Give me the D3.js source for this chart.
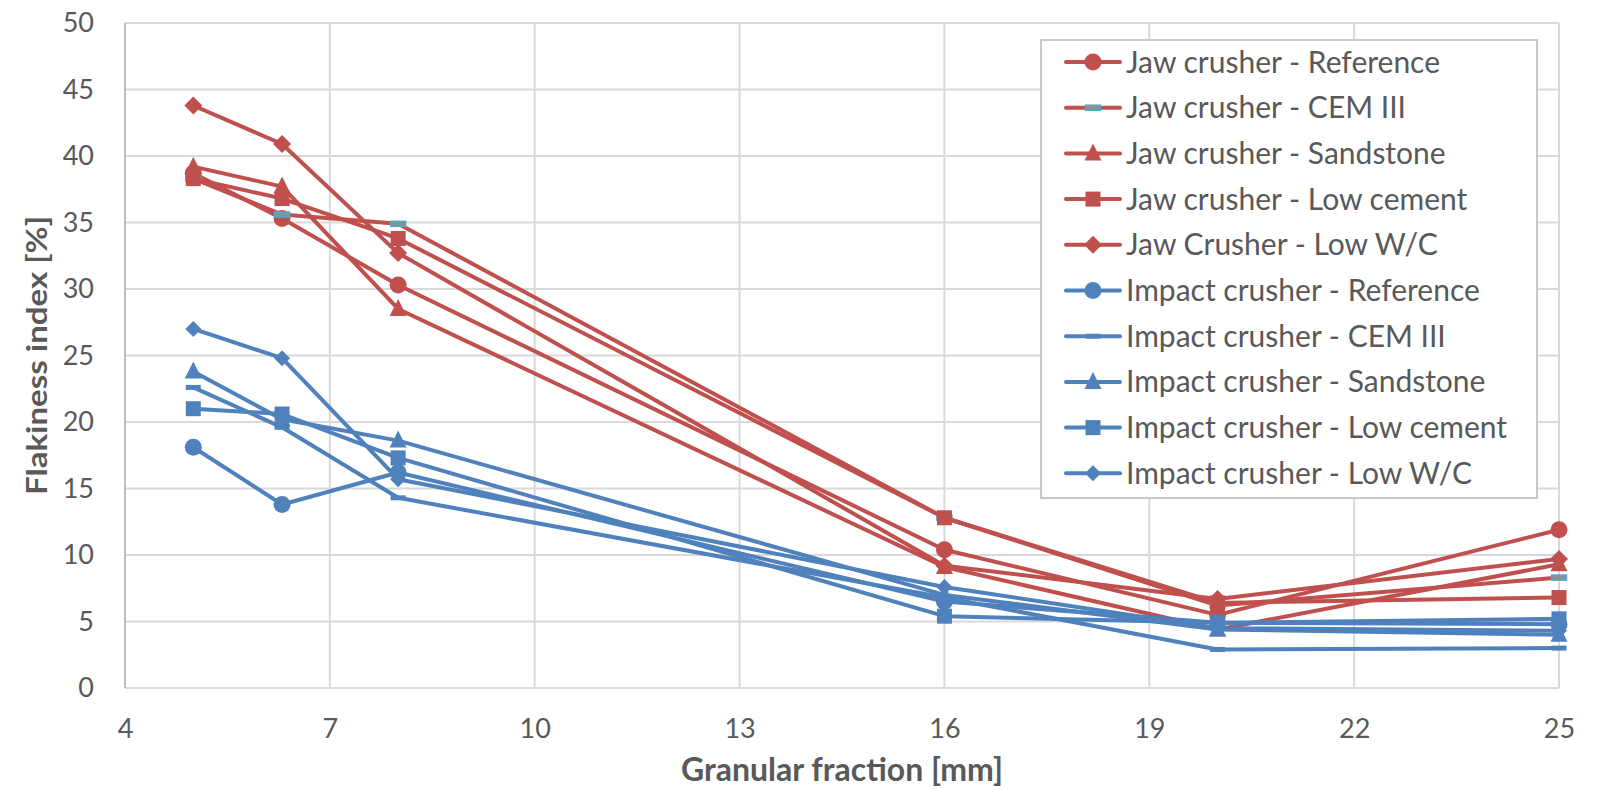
<!DOCTYPE html>
<html>
<head>
<meta charset="utf-8">
<script src="https://cdn.jsdelivr.net/npm/d3@7"></script>
<style>
  body { margin: 0; background: #fff; }
  text { font-family: "Source Sans Pro", Lato, "Noto Sans", sans-serif; fill: #595959; }
</style>
</head>
<body>
<div id="chart"></div>
<script>
// granular fractions (mm)
const fractions = [5, 6.3, 8, 16, 20, 25];

// flakiness index per series (%)
const jawReference    = [38.7, 35.3, 30.3, 10.4, 5.5, 11.9];
const jawCem3         = [38.3, 35.6, 34.9, 12.8, 6.2, 8.3];
const jawSandstone    = [39.2, 37.7, 28.5, 9.1, 4.4, 9.3];
const jawLowCement    = [38.3, 36.8, 33.8, 12.8, 6.4, 6.8];
const jawLowWc        = [43.8, 40.9, 32.7, 9.2, 6.7, 9.7];
const impactReference = [18.1, 13.8, 16.2, 6.5, 4.9, 4.8];
const impactCem3      = [22.6, 19.6, 14.3, 6.8, 2.9, 3.0];
const impactSandstone = [23.8, 20.2, 18.6, 7.0, 4.4, 4.0];
const impactLowCement = [21.0, 20.6, 17.3, 5.4, 4.9, 5.2];
const impactLowWc     = [27.0, 24.8, 15.7, 7.6, 4.5, 4.3];

const seriesNames = [
  "Jaw crusher - Reference", "Jaw crusher - CEM III", "Jaw crusher - Sandstone",
  "Jaw crusher - Low cement", "Jaw Crusher - Low W/C",
  "Impact crusher - Reference", "Impact crusher - CEM III", "Impact crusher - Sandstone",
  "Impact crusher - Low cement", "Impact crusher - Low W/C"
];
const seriesValues = [jawReference, jawCem3, jawSandstone, jawLowCement, jawLowWc,
  impactReference, impactCem3, impactSandstone, impactLowCement, impactLowWc];
const seriesShapes = ["circle", "dash", "triangle", "square", "diamond",
  "circle", "dash", "triangle", "square", "diamond"];

const xTicks = [4, 7, 10, 13, 16, 19, 22, 25];
const yTicks = [0, 5, 10, 15, 20, 25, 30, 35, 40, 45, 50];

const RED = "#C0504D", BLUE = "#4F81BD", TEAL = "#4BACC6";

let width = 1599, height = 789;
let margin = {top: 23, right: 40, bottom: 101, left: 125};

let svg = d3.select("#chart").append("svg")
    .attr("width", width)
    .attr("height", height);

let xScale = d3.scaleLinear().domain([4, 25]).range([margin.left, width - margin.right]);
let yScale = d3.scaleLinear().domain([0, 50]).range([height - margin.bottom, margin.top]);

//gridlines
svg.append("g").selectAll("line.hgrid").data(yTicks).enter().append("line")
    .attr("x1", xScale(4)).attr("x2", xScale(25))
    .attr("y1", d => yScale(d)).attr("y2", d => yScale(d))
    .attr("stroke", "#D9D9D9").attr("stroke-width", 2);
svg.append("g").selectAll("line.vgrid").data(xTicks).enter().append("line")
    .attr("x1", d => xScale(d)).attr("x2", d => xScale(d))
    .attr("y1", yScale(0)).attr("y2", yScale(50))
    .attr("stroke", d => d === 4 ? "#BFBFBF" : "#D9D9D9").attr("stroke-width", 2);

//axes (labels only, lines come from the grid)
let xAxis = svg.append("g")
    .attr("transform", "translate(0," + yScale(0) + ")")
    .call(d3.axisBottom(xScale).tickValues(xTicks).tickSize(0).tickPadding(31));
xAxis.select(".domain").remove();
xAxis.selectAll("text").style("font-size", "27px").attr("fill", "#595959");

let yAxis = svg.append("g")
    .attr("transform", "translate(" + xScale(4) + ",0)")
    .call(d3.axisLeft(yScale).tickValues(yTicks).tickSize(0).tickPadding(31));
yAxis.select(".domain").remove();
yAxis.selectAll("text").style("font-size", "27px").attr("fill", "#595959");

//axis titles
svg.append("text")
    .attr("x", (xScale(4) + xScale(25)) / 2)
    .attr("y", 781)
    .attr("text-anchor", "middle")
    .style("font-size", "32px").style("font-weight", "bold")
    .text("Granular fraction [mm]");

svg.append("text")
    .attr("transform", "translate(47," + (yScale(25)) + ") rotate(-90)")
    .attr("text-anchor", "middle")
    .attr("textLength", 279).attr("lengthAdjust", "spacingAndGlyphs")
    .style("font-size", "29px").style("font-weight", "bold")
    .text("Flakiness index  [%]");

// draws one marker shape at (x, y)
function drawMarker(g, shape, x, y, color) {
    if (shape === "circle") {
        g.append("circle").attr("cx", x).attr("cy", y).attr("r", 8.5).attr("fill", color);
    } else if (shape === "square") {
        g.append("rect").attr("x", x - 7.5).attr("y", y - 7.5).attr("width", 15).attr("height", 15).attr("fill", color);
    } else if (shape === "triangle") {
        g.append("path").attr("d", "M" + x + "," + (y - 10) + "L" + (x + 8.5) + "," + (y + 7) + "L" + (x - 8.5) + "," + (y + 7) + "Z").attr("fill", color);
    } else if (shape === "diamond") {
        let h = color === RED ? 9 : 8;
        g.append("path").attr("d", "M" + x + "," + (y - h) + "L" + (x + h) + "," + y + "L" + x + "," + (y + h) + "L" + (x - h) + "," + y + "Z").attr("fill", color);
    } else if (shape === "dash") {
        if (color === RED) {
            g.append("rect").attr("x", x - 7.5).attr("y", y - 2.5).attr("width", 15).attr("height", 5)
                .attr("fill", "#8A8F9A").attr("stroke", TEAL).attr("stroke-width", 1.5);
        } else {
            g.append("rect").attr("x", x - 7.5).attr("y", y - 2.5).attr("width", 15).attr("height", 5).attr("fill", color);
        }
    }
}

let line = d3.line()
    .x((d, i) => xScale(fractions[i]))
    .y(d => yScale(d));

seriesValues.forEach(function(values, s) {
    let color = s < 5 ? RED : BLUE;
    let g = svg.append("g").attr("class", "series");
    g.append("path").datum(values)
        .attr("d", line)
        .attr("fill", "none")
        .attr("stroke", color)
        .attr("stroke-width", 4)
        .attr("stroke-linejoin", "round");
    values.forEach(function(v, i) {
        drawMarker(g, seriesShapes[s], xScale(fractions[i]), yScale(v), color);
    });
});

//legend
let legend = svg.append("g");
legend.append("rect")
    .attr("x", 1041).attr("y", 40)
    .attr("width", 496).attr("height", 458)
    .attr("fill", "#fff").attr("stroke", "#C8C8C8").attr("stroke-width", 2);

seriesNames.forEach(function(name, s) {
    let color = s < 5 ? RED : BLUE;
    let y = 62 + s * 45.7;
    legend.append("line")
        .attr("x1", 1066).attr("x2", 1120).attr("y1", y).attr("y2", y)
        .attr("stroke", color).attr("stroke-width", 4).attr("stroke-linecap", "round");
    drawMarker(legend, seriesShapes[s], 1093, y, color);
    legend.append("text")
        .attr("x", 1126).attr("y", y)
        .attr("dy", "0.35em")
        .style("font-size", "30px")
        .text(name);
});
</script>
</body>
</html>
